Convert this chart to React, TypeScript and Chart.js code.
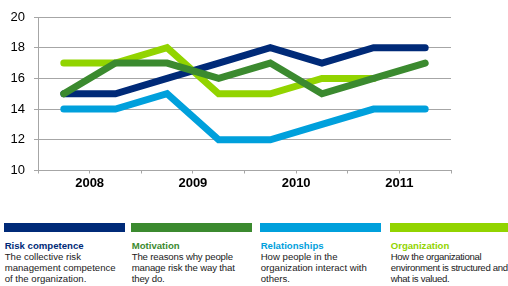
import React, { useEffect, useRef } from "react";
import { Chart, registerables } from "chart.js";

Chart.register(...registerables);

// ---- data ----
const categories = ["2008", "2009", "2010", "2011"];
const yTicks = [10, 12, 14, 16, 18, 20];
const riskCompetence = [15, 15, 16, 17, 18, 17, 18, 18];
const motivation = [15, 17, 17, 16, 17, 15, 16, 17];
const relationships = [14, 14, 15, 12, 12, 13, 14, 14];
const organization = [17, 17, 18, 15, 15, 16, 16, null];
const seriesNames = ["Risk competence", "Motivation", "Relationships", "Organization"];
const descriptions = [
  ["The collective risk", "management competence", "of the organization."],
  ["The reasons why people", "manage risk the way that", "they do."],
  ["How people in the", "organization interact with", "others."],
  ["How the organizational", "environment is structured and", "what is valued."],
];

const COLORS = ["#002a78", "#3b8a2f", "#00a0dc", "#92d400"];
const FONT = "'Liberation Sans', Arial, sans-serif";
const GRID = "#a6a6a6";

const toPoints = (vals: (number | null)[]) =>
  vals.map((v, i) => ({ x: i + 0.5, y: v as any }));

export default function App() {
  const ref = useRef<HTMLCanvasElement | null>(null);

  useEffect(() => {
    if (!ref.current) return;
    const series = [riskCompetence, motivation, relationships, organization];
    const drawOrder = [1, 0, 3, 2];
    const chart = new Chart(ref.current, {
      type: "line",
      data: {
        datasets: series.map((s, i) => ({
          label: seriesNames[i],
          data: toPoints(s),
          borderColor: COLORS[i],
          backgroundColor: COLORS[i],
          borderWidth: 7,
          pointRadius: 0,
          borderCapStyle: "round",
          borderJoinStyle: "miter",
          tension: 0,
          fill: false,
          order: drawOrder[i],
        })),
      },
      options: {
        responsive: false,
        animation: false,
        devicePixelRatio: 1,
        layout: { padding: { top: 17, right: 57, left: 0, bottom: 0 } },
        plugins: { legend: { display: false }, tooltip: { enabled: false } },
        scales: {
          x: {
            type: "linear",
            min: 0,
            max: categories.length * 2,
            afterFit: (s: any) => {
              s.height = 29.5;
            },
            grid: {
              drawOnChartArea: false,
              drawTicks: true,
              tickLength: 3,
              color: GRID,
            },
            border: { display: true, color: GRID },
            ticks: {
              stepSize: 1,
              autoSkip: false,
              maxRotation: 0,
              padding: 2,
              color: "#000",
              font: { family: FONT, size: 13, weight: "bold" },
              callback: (v: any) =>
                Number(v) % 2 === 1 ? categories[(Number(v) - 1) / 2] : "",
            },
          },
          y: {
            min: yTicks[0],
            max: yTicks[yTicks.length - 1],
            afterFit: (s: any) => {
              s.width = 38;
            },
            afterBuildTicks: (s: any) => {
              s.ticks = yTicks.map((v) => ({ value: v }));
            },
            grid: { color: GRID, tickLength: 4, drawTicks: true },
            border: { display: true, color: GRID },
            ticks: {
              padding: 9,
              color: "#000",
              font: { family: FONT, size: 13 },
            },
          },
        },
      },
    } as any);
    return () => chart.destroy();
  }, []);

  const lefts = [4, 131, 260, 390];
  const widths = [121, 121, 121, 118];
  const spacing = [0, -0.15, 0, -0.32];

  return (
    <div
      style={{
        position: "absolute",
        left: 0,
        top: 0,
        width: 508,
        height: 286,
        overflow: "hidden",
        background: "#fff",
        fontFamily: FONT,
      }}
    >
      <canvas
        ref={ref}
        width={508}
        height={200}
        style={{ position: "absolute", left: 0, top: 0, width: 508, height: 200 }}
      />
      {seriesNames.map((name, i) => (
        <div key={name}>
          <div
            style={{
              position: "absolute",
              left: lefts[i],
              top: 223,
              width: widths[i],
              height: 9,
              background: COLORS[i],
            }}
          />
          <div
            style={{
              position: "absolute",
              left: lefts[i] + 0.7,
              top: 239.6,
              fontSize: 9.6,
              lineHeight: "11.3px",
              whiteSpace: "nowrap",
              color: "#1a1a1a",
              letterSpacing: spacing[i],
            }}
          >
            <div style={{ fontWeight: "bold", color: COLORS[i], letterSpacing: 0 }}>{name}</div>
            {descriptions[i].map((line, j) => (
              <div key={j}>{line}</div>
            ))}
          </div>
        </div>
      ))}
    </div>
  );
}
